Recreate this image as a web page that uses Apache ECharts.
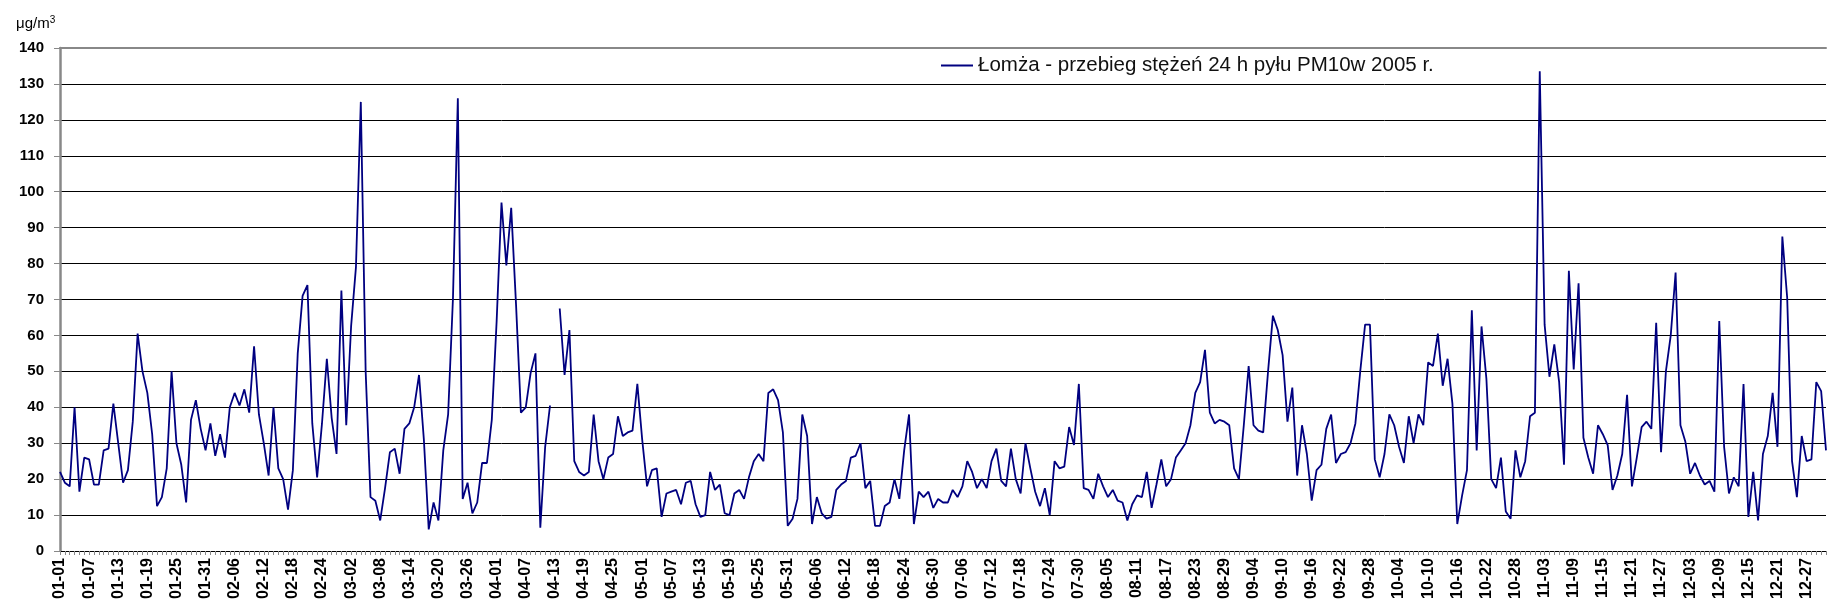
<!DOCTYPE html>
<html>
<head>
<meta charset="utf-8">
<title>Łomża PM10 2005</title>
<script src="https://cdn.jsdelivr.net/npm/echarts@6/dist/echarts.min.js"></script>
<style>
    html, body { margin: 0; padding: 0; background: #fff; }
    #chart { width: 1827px; height: 615px; }
</style>
</head>
<body>
<div id="chart"></div>
<script>
// daily PM10 values (µg/m3), one array per month
const jan = [22, 19, 18, 40, 16.5, 26, 25.5, 18.5, 18.5, 28, 28.5, 41, 30, 19, 22.5, 36, 60.5, 50, 44, 32.5, 12.5, 15, 23, 50, 30, 24, 13.5, 36.5, 42, 34, 28];
const feb = [35.5, 26.5, 32.5, 26, 40, 44, 40.5, 45, 38.5, 57, 38, 30, 21, 40, 23, 20, 11.5, 22.5, 55, 71, 74, 35.5, 20.5, 35.5, 53.5, 37, 27, 72.5];
const mar = [35, 62.5, 79, 125, 50, 15, 14, 8.5, 17.5, 27.5, 28.5, 21.5, 34, 35.5, 40, 49, 31, 6, 13.5, 8.5, 28, 38, 70.5, 126, 14.5, 19, 10.5, 13.5, 24.5, 24.5, 36.5];
const apr = [64, 97, 79.5, 95.5, 68.5, 38.5, 40, 49.5, 55, 6.5, 29, 40.5, null, 67.5, 49, 61.5, 25, 22, 21, 22, 38, 25, 20, 26, 27, 37.5, 32, 33, 33.5, 46.5];
const may = [31, 18, 22.5, 23, 9.5, 16, 16.5, 17, 13, 19, 19.5, 13, 9.5, 10, 22, 17, 18.5, 10.5, 10, 16, 17, 14.5, 20.5, 25, 27, 25, 44, 45, 42, 33, 7];
const jun = [9, 14.5, 38, 32, 7.5, 15, 10.5, 9, 9.5, 17, 18.5, 19.5, 26, 26.5, 30, 17.5, 19.5, 7, 7, 12.5, 13.5, 20, 14.5, 28, 38, 7.5, 16.5, 15, 16.5, 12];
const jul = [14.5, 13.5, 13.5, 17, 15, 18, 25, 22, 17.5, 20, 17.5, 25, 28.5, 19.5, 18, 28.5, 20, 16, 30, 23, 16.5, 12.5, 17.5, 10, 25, 23, 23.5, 34.5, 29.5, 46.5, 17.5];
const aug = [17, 14.5, 21.5, 18, 15, 17, 14, 13.5, 8.5, 13, 15.5, 15, 22, 12, 18.5, 25.5, 18, 20, 26, 28, 30, 35, 44, 47, 56, 38.5, 35.5, 36.5, 36, 35, 23];
const sep = [20, 35, 51.5, 35, 33.5, 33, 50, 65.5, 61.5, 54.5, 36, 45.5, 21, 35, 27, 14, 22.5, 24, 34, 38, 24.5, 27, 27.5, 30, 35.5, 50, 63, 63, 25.5, 20.5];
const oct = [27, 38, 35, 29, 24.5, 37.5, 30, 38, 35, 52.5, 51.5, 60.5, 46, 53.5, 41, 7.5, 15.5, 22.5, 67, 28, 62.5, 48, 20, 17.5, 26, 11, 9, 28, 20.5, 25, 37.5];
const nov = [38.5, 133.5, 63, 48.5, 57.5, 47, 24, 78, 50.5, 74.5, 31.5, 26, 21.5, 35, 32.5, 29.5, 17, 21, 27, 43.5, 18, 26, 34.5, 36, 34, 63.5, 27.5, 50, 60, 77.5];
const dec = [35, 30.5, 21.5, 24.5, 21, 18.5, 19.5, 16.5, 64, 29, 16, 20.5, 18, 46.5, 9.5, 22, 8.5, 27, 32, 44, 29, 87.5, 70.5, 25, 15, 32, 25, 25.5, 47, 44.5, 28];

const months = [jan, feb, mar, apr, may, jun, jul, aug, sep, oct, nov, dec];
const yTicks = [0, 140, 10]; // min, max, step
const seriesName = "Łomża - przebieg stężeń 24 h pyłu PM10w 2005 r.";

// categories "MM-DD" and the joined series
const days = [];
const values = [];
months.forEach(function (m, i) {
    m.forEach(function (v, j) {
        days.push(String(i + 1).padStart(2, "0") + "-" + String(j + 1).padStart(2, "0"));
        values.push(v === null ? "-" : v); // "-" leaves a gap in the line
    });
});

(function () {
    const my_echart = echarts.init(document.getElementById("chart"));
    const fontFamily = "'Liberation Sans', Arial, sans-serif";
    let option = {
        animation: false,
        backgroundColor: "#fff",
        title: {
            text: "μg/m{sup|3}",
            left: 11,
            top: 10,
            textStyle: {
                fontFamily: fontFamily,
                fontSize: 15,
                fontWeight: "normal",
                color: "#000",
                rich: {
                    sup: { fontSize: 10, verticalAlign: "top", padding: [0, 0, 8, 0], fontFamily: fontFamily, color: "#000" }
                }
            }
        },
        legend: {
            left: 936,
            top: 50,
            icon: "rect",
            itemWidth: 32,
            itemHeight: 2,
            itemGap: 5,
            textStyle: { fontFamily: fontFamily, fontSize: 20.5, color: "#111" },
            data: [seriesName]
        },
        grid: {
            left: 60,
            right: 1,
            top: 48,
            bottom: 64
        },
        xAxis: [
            {
                type: "category",
                data: days,
                boundaryGap: false,
                axisLine: { lineStyle: { color: "#000", width: 1 } },
                axisTick: { interval: 0, length: 4, lineStyle: { color: "#888" } },
                axisLabel: {
                    interval: 5,
                    rotate: 90,
                    margin: 7,
                    fontFamily: fontFamily,
                    fontSize: 16,
                    fontWeight: "bold",
                    color: "#000"
                },
                splitLine: { show: false }
            },
            {
                type: "category", // only for the grey top border line
                data: days,
                position: "top",
                boundaryGap: false,
                axisLine: { lineStyle: { color: "#888", width: 2 } },
                axisTick: { show: false },
                axisLabel: { show: false }
            }
        ],
        yAxis: {
            type: "value",
            min: yTicks[0],
            max: yTicks[1],
            interval: yTicks[2],
            axisLine: { show: true, lineStyle: { color: "#888", width: 2.5 } },
            axisTick: { show: true, length: 6, lineStyle: { color: "#888" } },
            axisLabel: {
                margin: 16,
                fontFamily: fontFamily,
                fontSize: 15,
                fontWeight: "bold",
                color: "#000"
            },
            splitLine: { lineStyle: { color: "#000", width: 1 } }
        },
        series: [
            {
                name: seriesName,
                type: "line",
                data: values,
                symbol: "none",
                connectNulls: false,
                lineStyle: { color: "#000080", width: 1.8 },
                itemStyle: { color: "#000080" }
            }
        ]
    };
    my_echart.setOption(option);
    window.addEventListener("resize", function () {
        my_echart.resize();
    });
})();
</script>
</body>
</html>
